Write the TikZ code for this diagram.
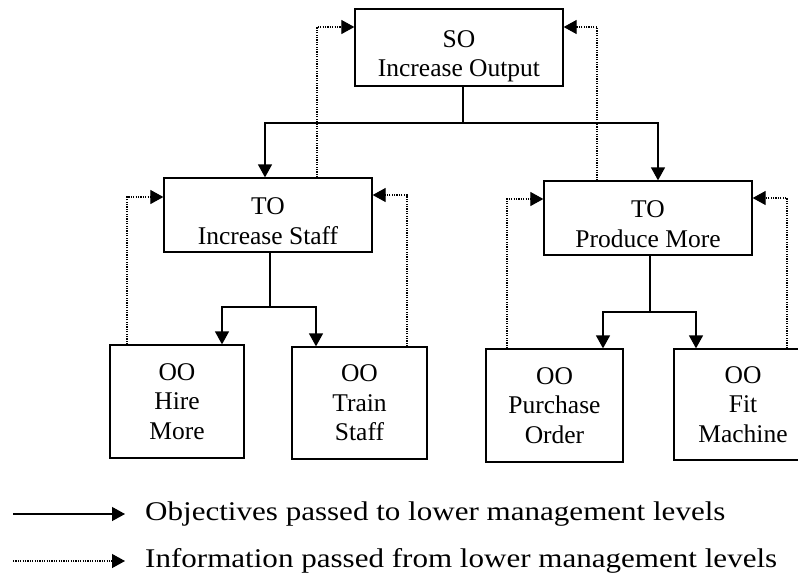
\documentclass[tikz,border=0pt]{standalone}
\usepackage{fontspec}
\setmainfont{Liberation Serif}
\usetikzlibrary{arrows.meta,calc}

% extra room above a line of box text, pushing the text block down
\newcommand{\toppad}[2]{\raisebox{0pt}[\dimexpr\height+#1\relax]{#2}}

\tikzset{
  objbox/.style={draw, line width=1.3pt, inner sep=0pt, align=center,
    font=\fontsize{25.5}{29.5}\selectfont},
  objline/.style={line width=1.4pt, -{Triangle[length=13pt,width=14pt]}},
  infoline/.style={line width=1.2pt, dash pattern=on 1.2pt off 1.2pt,
    -{Triangle[length=13pt,width=14pt]}},
  plainline/.style={line width=1.4pt},
  legendtext/.style={anchor=west, inner sep=0pt,
    font=\fontsize{27}{30}\selectfont}
}

\begin{document}
\begin{tikzpicture}[x=1pt, y=-1pt]
\clip (0,0) rectangle (798,582);
\fill[white] (0,0) rectangle (798,582);

% objective boxes
\node[objbox, minimum width=208pt, minimum height=77pt] (so) at (459,47.5) {\toppad{18pt}{SO}\\Increase Output};
\node[objbox, minimum width=208pt, minimum height=74pt] (tol) at (268,215) {\toppad{12pt}{TO}\\Increase Staff};
\node[objbox, minimum width=208pt, minimum height=74pt] (tor) at (648,218) {\toppad{12pt}{TO}\\Produce More};
\node[objbox, minimum width=134pt, minimum height=113pt] (hire) at (177,401.5) {OO\\Hire\\More};
\node[objbox, minimum width=135pt, minimum height=112pt] (train) at (359.5,403) {OO\\Train\\Staff};
\node[objbox, minimum width=137pt, minimum height=113pt] (purch) at (554.5,405.5) {OO\\Purchase\\Order};
\node[objbox, minimum width=138pt, minimum height=111pt] (fit) at (743,404.5) {OO\\Fit\\Machine};

% junctions of the objective lines
\coordinate (j0) at (463,123);
\coordinate (j1) at (270,307);
\coordinate (j2) at (650,312);

% objectives passed down
\draw[plainline] (so.south -| j0) -- (j0);
\draw[objline] (j0) -| ([xshift=-3pt]tol.north);
\draw[objline] (j0) -| ([xshift=10pt]tor.north);
\draw[plainline] (tol.south -| j1) -- (j1);
\draw[objline] (j1) -| ([xshift=45pt]hire.north);
\draw[objline] (j1) -| ([xshift=-43.5pt]train.north);
\draw[plainline] (tor.south -| j2) -- (j2);
\draw[objline] (j2) -| ([xshift=48.5pt]purch.north);
\draw[objline] (j2) -| ([xshift=-47pt]fit.north);

% information passed up
\draw[infoline] ([xshift=49pt]tol.north) |- ([yshift=20.5pt]so.west);
\draw[infoline] ([xshift=-51pt]tor.north) |- ([yshift=20.5pt]so.east);
\draw[infoline] ([xshift=-50pt]hire.north) |- ([yshift=18pt]tol.west);
\draw[infoline] ([xshift=47.5pt]train.north) |- ([yshift=20pt]tol.east);
\draw[infoline] ([xshift=-47.5pt]purch.north) |- ([yshift=19pt]tor.west);
\draw[infoline] ([xshift=44pt]fit.north) |- ([yshift=20pt]tor.east);

% legend
\coordinate (la) at (13,514);
\coordinate (lb) at (13,561);
\node[legendtext] (lta) at (145,514) {\scalebox{1.15}[1]{Objectives passed to lower management levels}};
\node[legendtext] (ltb) at (145,561) {\scalebox{1.15}[1]{Information passed from lower management levels}};
\draw[objline, line width=1.2pt] (la) -- ([xshift=-20pt]lta.west);
\draw[infoline] (lb) -- ([xshift=-20pt]ltb.west);
\end{tikzpicture}
\end{document}
